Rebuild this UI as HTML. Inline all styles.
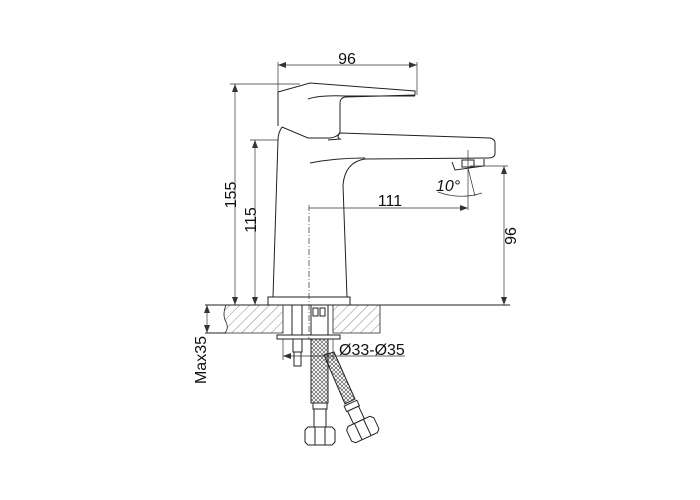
<!DOCTYPE html>
<html><head><meta charset="utf-8"><style>html,body{margin:0;padding:0;background:#fff}svg{display:block}</style></head>
<body>
<svg width="700" height="500" viewBox="0 0 700 500" xmlns="http://www.w3.org/2000/svg" font-family="Liberation Sans, sans-serif">
<defs>
<pattern id="h" width="7" height="7" patternUnits="userSpaceOnUse" patternTransform="rotate(45)">
<line x1="0" y1="0" x2="0" y2="7" stroke="#555" stroke-width="0.7"/>
</pattern>
<pattern id="br" width="4" height="4" patternUnits="userSpaceOnUse">
<path d="M0 0L2 2L4 0M0 4L2 2L4 4" stroke="#444" stroke-width="0.6" fill="none"/>
</pattern>
<marker id="a" markerWidth="8" markerHeight="6" refX="8" refY="3" orient="auto-start-reverse" markerUnits="userSpaceOnUse">
<path d="M0 0L8 3L0 6Z" fill="#333"/>
</marker>
</defs>
<g stroke="#222" stroke-width="1" fill="none">
<path d="M226 305 Q222 315 226 322 Q229 328 225 333 L283 333 L283 305 Z" fill="url(#h)" stroke-width="0.8"/>
<path d="M333 305 L380 305 L380 333 L333 333 Z" fill="url(#h)" stroke-width="0.8"/>
<line x1="205" y1="305" x2="510" y2="305"/>
<line x1="205" y1="333" x2="226" y2="333"/>
<path d="M278 126 L278 92 L310 83 L415 91 L415 95 L345 97"/>
<path d="M308 99 Q320 95 345 96 L415 96"/>
<path d="M345 97 Q340 98 340 103 L340 132 Q338 137 330 138 L308 138 L282 127"/>
<path d="M282 127 Q278 133 278 140"/>
<path d="M328 140 L340 139 Q336 137 340 133 L490 138 Q495 139 495 143 L495 153 Q495 158 488 158 L365 159 Q345 162 343 185 L347 297"/>
<path d="M310 163 Q335 158 365 158"/>
<path d="M278 140 L273 297"/>
<rect x="268" y="297" width="82" height="8"/>
<path d="M452 162 L455 170 L484 166 L484 159"/>
<rect x="462" y="160" width="12" height="7"/>
<line x1="292" y1="305" x2="292" y2="335"/>
<line x1="302" y1="305" x2="302" y2="335"/>
<rect x="311" y="305" width="17" height="30"/>
<rect x="313" y="308" width="5" height="8"/>
<rect x="320" y="308" width="5" height="8"/>
<rect x="277" y="335" width="63" height="4"/>
<rect x="293" y="339" width="9" height="13"/>
<rect x="294" y="352" width="7" height="14"/>
<rect x="311" y="339" width="17" height="64" fill="url(#br)"/>
<rect x="313" y="403" width="14" height="6"/>
<rect x="314" y="409" width="12" height="18"/>
<path d="M305 430 L308 427 L332 427 L335 430 L335 442 L332 445 L308 445 L305 442 Z"/>
<line x1="315" y1="427" x2="315" y2="445"/><line x1="325" y1="427" x2="325" y2="445"/>
<path d="M324 355 L334 352 L355 399 L345 404 Z" fill="url(#br)"/>
<g transform="rotate(-25 356 415)">
<rect x="349" y="402" width="14" height="6"/><rect x="350" y="408" width="12" height="14"/>
<path d="M341 425 L344 422 L368 422 L371 425 L371 437 L368 440 L344 440 L341 437 Z"/>
<line x1="351" y1="422" x2="351" y2="440"/><line x1="361" y1="422" x2="361" y2="440"/>
</g>
</g>
<g stroke="#333" stroke-width="0.7" fill="none">
<line x1="278" y1="62" x2="278" y2="92"/><line x1="417" y1="62" x2="417" y2="95"/>
<line x1="278" y1="65" x2="417" y2="65" marker-start="url(#a)" marker-end="url(#a)"/>
<line x1="230" y1="84" x2="300" y2="84"/>
<line x1="235" y1="84" x2="235" y2="305" marker-start="url(#a)" marker-end="url(#a)"/>
<line x1="250" y1="140" x2="278" y2="140"/>
<line x1="255" y1="140" x2="255" y2="305" marker-start="url(#a)" marker-end="url(#a)"/>
<line x1="309" y1="208" x2="468" y2="208" marker-end="url(#a)"/>
<line x1="309" y1="205" x2="309" y2="340" stroke-dasharray="6 2 1 2"/>
<line x1="468" y1="150" x2="468" y2="210"/>
<line x1="468" y1="168" x2="475" y2="196"/>
<path d="M438 192 Q460 200 482 193"/>
<line x1="470" y1="166" x2="508" y2="166"/>
<line x1="504" y1="166" x2="504" y2="305" marker-start="url(#a)" marker-end="url(#a)"/>
<line x1="207" y1="305" x2="207" y2="333" marker-start="url(#a)" marker-end="url(#a)"/>
<line x1="283" y1="339" x2="283" y2="360"/>
<line x1="333" y1="339" x2="333" y2="360"/>
<line x1="283" y1="356" x2="405" y2="356" marker-start="url(#a)"/>
</g>
<g fill="#111" font-size="16">
<text x="347" y="64" text-anchor="middle">96</text>
<text x="390" y="206" text-anchor="middle">111</text>
<text transform="translate(236 195) rotate(-90)" text-anchor="middle">155</text>
<text transform="translate(256 220) rotate(-90)" text-anchor="middle">115</text>
<text transform="translate(516 236) rotate(-90)" text-anchor="middle">96</text>
<text transform="translate(206 360) rotate(-90)" text-anchor="middle">Max35</text>
<text x="339" y="355">Ø33-Ø35</text>
<text x="436" y="191" font-style="italic">10°</text>
</g>
</svg>
</body></html>
